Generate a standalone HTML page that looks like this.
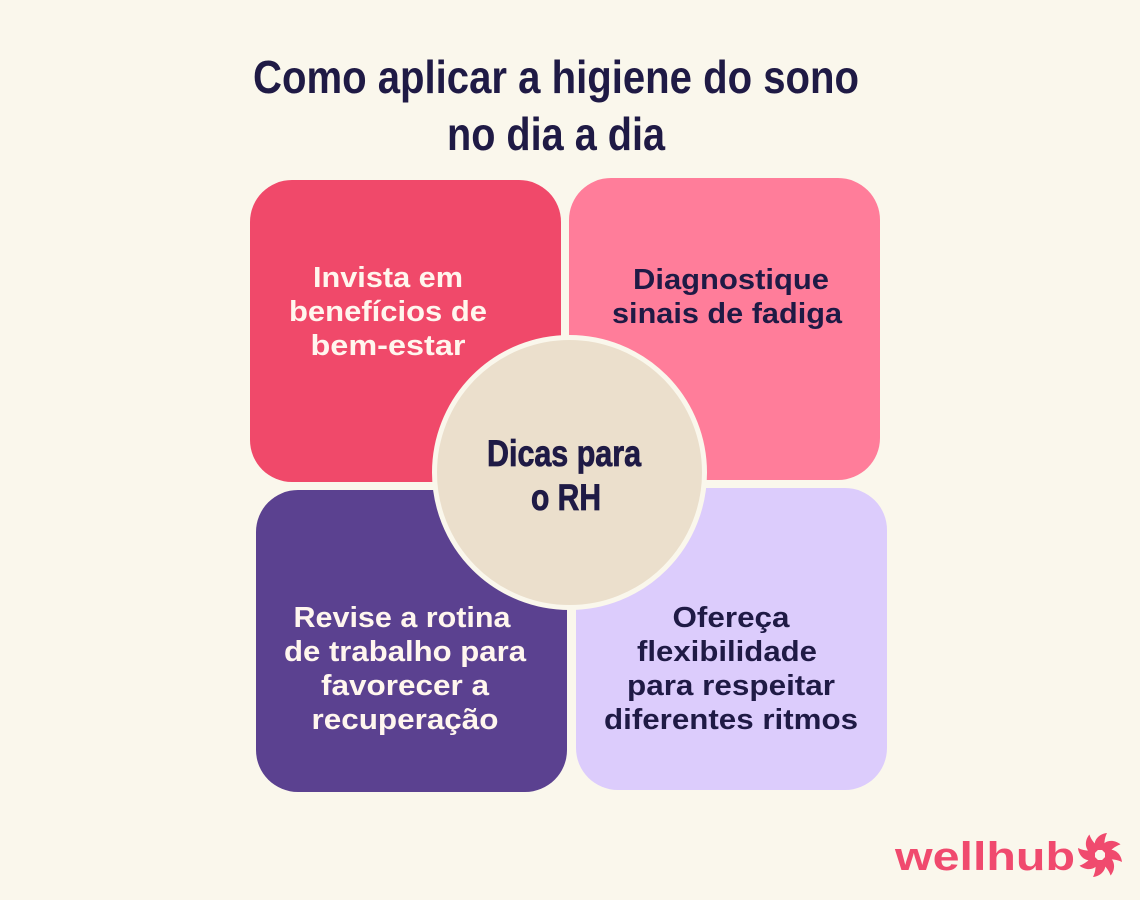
<!DOCTYPE html>
<html><head><meta charset="utf-8"><style>
html,body{margin:0;padding:0;background:#faf7ec;}
svg{display:block}
</style></head><body>
<svg width="1140" height="900" viewBox="0 0 1140 900" xmlns="http://www.w3.org/2000/svg">
<rect width="1140" height="900" fill="#faf7ec"/>
<g font-family="Liberation Sans, sans-serif" font-weight="bold" fill="#1f1a45" text-anchor="middle">
<text x="556" y="93" font-size="46" textLength="606" lengthAdjust="spacingAndGlyphs">Como aplicar a higiene do sono</text>
<text x="556" y="150" font-size="46" textLength="218" lengthAdjust="spacingAndGlyphs">no dia a dia</text>
</g>
<rect x="250" y="180" width="311" height="302" rx="42" fill="#f0496a"/>
<rect x="569" y="178" width="311" height="302" rx="42" fill="#ff7d9a"/>
<rect x="256" y="490" width="311" height="302" rx="42" fill="#5b4190"/>
<rect x="576" y="488" width="311" height="302" rx="42" fill="#dcccfc"/>
<circle cx="569.5" cy="472.5" r="135" fill="#ebdfcc" stroke="#faf7ec" stroke-width="5"/>
<g font-family="Liberation Sans, sans-serif" font-weight="bold" font-size="29" text-anchor="middle" lengthAdjust="spacingAndGlyphs">
<g fill="#fff6ee">
<text x="388" y="287" textLength="150" lengthAdjust="spacingAndGlyphs">Invista em</text>
<text x="388" y="321" textLength="198" lengthAdjust="spacingAndGlyphs">benefícios de</text>
<text x="388" y="355" textLength="155" lengthAdjust="spacingAndGlyphs">bem-estar</text>
<text x="402" y="627" textLength="217" lengthAdjust="spacingAndGlyphs">Revise a rotina</text>
<text x="405" y="661" textLength="242" lengthAdjust="spacingAndGlyphs">de trabalho para</text>
<text x="405" y="695" textLength="168" lengthAdjust="spacingAndGlyphs">favorecer a</text>
<text x="405" y="729" textLength="187" lengthAdjust="spacingAndGlyphs">recuperação</text>
</g>
<g fill="#1f1a45">
<text x="731" y="289" textLength="196" lengthAdjust="spacingAndGlyphs">Diagnostique</text>
<text x="727" y="323" textLength="230" lengthAdjust="spacingAndGlyphs">sinais de fadiga</text>
<text x="731" y="627" textLength="117" lengthAdjust="spacingAndGlyphs">Ofereça</text>
<text x="727" y="661" textLength="180" lengthAdjust="spacingAndGlyphs">flexibilidade</text>
<text x="731" y="695" textLength="208" lengthAdjust="spacingAndGlyphs">para respeitar</text>
<text x="731" y="729" textLength="254" lengthAdjust="spacingAndGlyphs">diferentes ritmos</text>
</g>
</g>
<g font-family="Liberation Sans, sans-serif" font-weight="bold" font-size="37" fill="#1f1a45" stroke="#1f1a45" stroke-width="0.8" text-anchor="middle">
<text x="564" y="466" textLength="154" lengthAdjust="spacingAndGlyphs">Dicas para</text>
<text x="566" y="510" textLength="70" lengthAdjust="spacingAndGlyphs">o RH</text>
</g>
<text x="985" y="870" font-family="Liberation Sans, sans-serif" font-weight="bold" font-size="40" fill="#f04a6e" text-anchor="middle" textLength="180" lengthAdjust="spacingAndGlyphs">wellhub</text>
<g transform="translate(1100,855)" fill="#f04a6e">
<g id="p"><path d="M-4,-5 C-8,-12 -3,-21 7,-22 C4,-16 4,-10 5,-5 Z"/></g>
<use href="#p" transform="rotate(45)"/>
<use href="#p" transform="rotate(90)"/>
<use href="#p" transform="rotate(135)"/>
<use href="#p" transform="rotate(180)"/>
<use href="#p" transform="rotate(225)"/>
<use href="#p" transform="rotate(270)"/>
<use href="#p" transform="rotate(315)"/>
</g>
</svg>
</body></html>
